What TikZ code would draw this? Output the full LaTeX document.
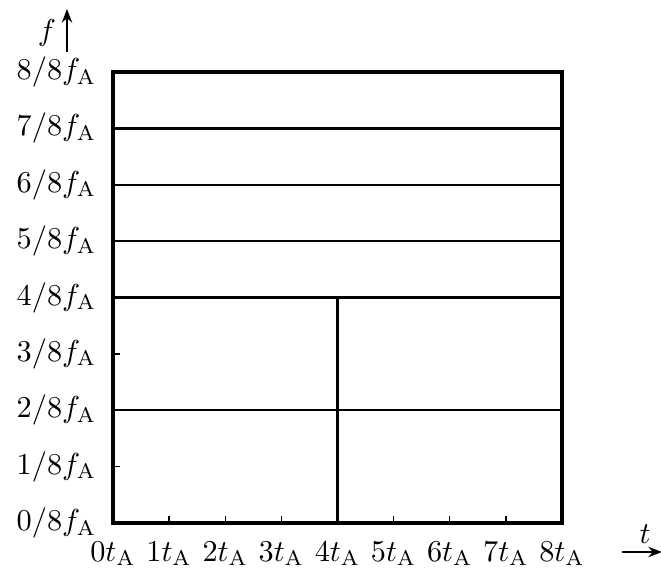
\documentclass[tikz,border=0pt]{standalone}
\usetikzlibrary{arrows.meta}
\begin{document}
\begin{tikzpicture}[x=0.33pt,y=-0.33pt,
  frame/.style={line width=1.1pt},
  grid/.style={line width=0.75pt},
  tick/.style={line width=0.45pt},
  flab/.style={anchor=east,inner sep=0pt},
  tlab/.style={anchor=north,inner sep=0pt},
  axarrow/.style={line width=0.65pt,-{Stealth[length=4.5pt,width=3.4pt]}}]
\useasboundingbox (0,0) rectangle (661,574);
% grid lines
\foreach \k in {5,6,7}{
  \draw[grid] (113,{523-\k*56.375}) -- (562,{523-\k*56.375});
}
\draw[line width=0.95pt] (113,297.5) -- (562,297.5);
\draw[grid] (113,410.25) -- (562,410.25);
\draw[grid] (337.5,297.5) -- (337.5,523);
% ticks
\foreach \k in {1,...,7}{
  \draw[tick] ({113+\k*56.125},523) -- ({113+\k*56.125},516);
}
\foreach \k in {1,3}{
  \draw[tick] (113,{523-\k*56.375}) -- (120,{523-\k*56.375});
}
% frame
\draw[frame] (113,72) rectangle (562,523);
% labels
\foreach \k in {0,...,8}{
  \node[flab] (f\k) at (97,{523-\k*56.375}) {$\k/8f_{\mathrm{A}}$};
  \node[tlab] (t\k) at ({113+\k*56.125},541) {$\k t_{\mathrm{A}}$};
}
% axes
\coordinate (fa) at (67,52);
\coordinate (fb) at (67,9);
\draw[axarrow] (fa) -- (fb);
\node (flabel) at (47,33) {$f$};
\coordinate (ta) at (622,552);
\coordinate (tb) at (662,552);
\draw[axarrow] (ta) -- (tb);
\node (tlabel) at (645,534) {$t$};
\end{tikzpicture}
\end{document}
